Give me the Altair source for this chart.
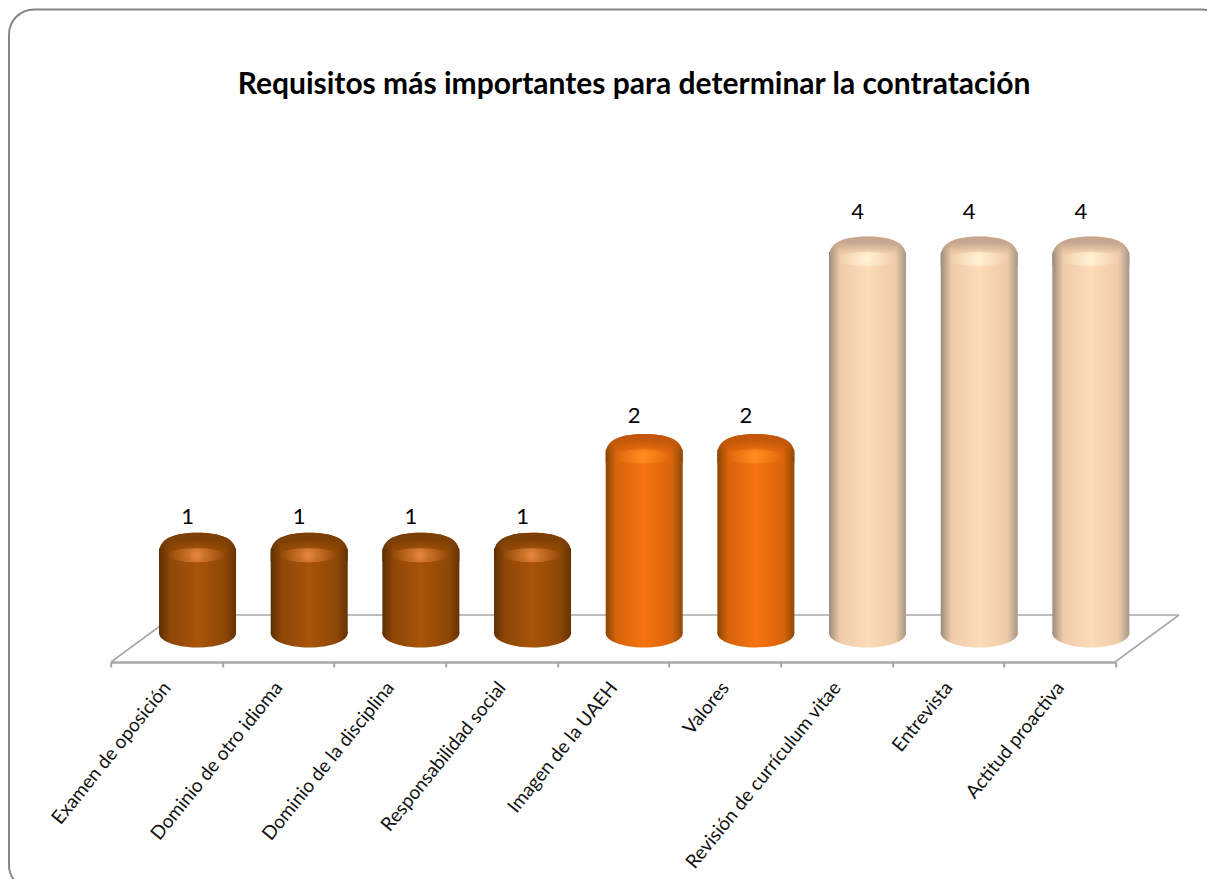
import altair as alt
import pandas as pd

categories = ["Examen de oposición", "Dominio de otro idioma", "Dominio de la disciplina",
              "Responsabilidad social", "Imagen de la UAEH", "Valores",
              "Revisión de currículum vitae", "Entrevista", "Actitud proactiva"]
values = [1, 1, 1, 1, 2, 2, 4, 4, 4]
title_text = "Requisitos más importantes para determinar la contratación"

df = pd.DataFrame({"cat": categories, "val": values})
df["base"] = 0.14

FONT = "Lato"
X0, Y0, W, H = 110.7, 252, 1005, 410   # plot area on the page
TOTAL_W, TOTAL_H = 1199, 871
DEPTH = 31
CYL = 77

x = alt.X("cat:N", sort=categories, title=None,
          scale=alt.Scale(domain=categories, paddingInner=0, paddingOuter=0, round=False),
          axis=alt.Axis(tickBand="extent", labelAngle=-51, labelAlign="right", labelBaseline="middle",
                        labelFont=FONT, labelFontSize=19, labelColor="#111", labelPadding=17,
                        labelLimit=0, labelOverlap=False, labelFlush=False, domainColor="#a6a6a6", domainWidth=2.5,
                        tickColor="#a6a6a6", tickWidth=2, tickSize=5, grid=False))
yscale = alt.Scale(domain=[-0.152, 4], nice=False, zero=False)
y = alt.Y("val:Q", title=None, axis=None, scale=yscale)


def rel(px, py):
    return px - X0, py - Y0


def seg(x1, y1, x2, y2, color="#a9a9a9", width=1.6):
    a, b = rel(x1, y1)
    c, d = rel(x2, y2)
    return alt.Chart(df.head(1)).mark_rule(color=color, strokeWidth=width).encode(
        x=alt.value(a), y=alt.value(b), x2=alt.value(c), y2=alt.value(d))


def hgrad(edge_l, mid1, mid2, edge_r):
    return alt.Gradient(gradient="linear", x1=0, y1=0, x2=1, y2=0, stops=[
        alt.GradientStop(offset=0, color=edge_l), alt.GradientStop(offset=0.14, color=mid1),
        alt.GradientStop(offset=0.5, color=mid2), alt.GradientStop(offset=0.86, color=mid1),
        alt.GradientStop(offset=1, color=edge_r)])


CAP = "M-1,0.12 C-1,-0.24 -0.62,-0.4 0,-0.4 C0.62,-0.4 1,-0.24 1,0.12 L1,0.35 L-1,0.35 Z"
ELL = "M-1,0 A1,0.37 0 1 0 1,0 A1,0.37 0 1 0 -1,0 Z"
GLOW = "M-1,0 A1,0.24 0 1 0 1,0 A1,0.24 0 1 0 -1,0 Z"

palettes = {
    1: dict(g=("#5d2e03", "#8e4706", "#a9540a", "#653203"), top="#7c3f05", glow="#e8893e", dy=-31),
    2: dict(g=("#8a4605", "#d8640b", "#f6730f", "#8f4a06"), top="#c2570a", glow="#ff8f22", dy=-33),
    4: dict(g=("#9d8b7b", "#efcba8", "#fddcb8", "#a89888"), top="#c6a68e", glow="#fff2d6", dy=-40),
}

frame_l, frame_t = rel(9, 9.5)
frame_r, frame_b = rel(1227, 890)
frame = alt.Chart(df.head(1)).mark_rect(cornerRadius=25, fill="transparent", stroke="#868686", strokeWidth=2).encode(
    x=alt.value(frame_l), x2=alt.value(frame_r), y=alt.value(frame_t), y2=alt.value(frame_b))

tx, ty = rel(634, 85)
title = alt.Chart(df.head(1)).mark_text(text=title_text, font=FONT, fontSize=30, fontWeight="bold", color="#000",
                                        align="center", baseline="middle").encode(
    x=alt.value(tx), y=alt.value(ty))

layers = [frame, title,
          seg(175, 615, 1179, 615),
          seg(111, 662, 175, 615),
          seg(1115, 662, 1179, 615)]

for v, p in palettes.items():
    d = df[df.val == v]
    body = hgrad(*p["g"])
    layers.append(alt.Chart(d).mark_point(shape=ELL, size=CYL ** 2, filled=True, fill=body, opacity=1,
                                          strokeWidth=0, xOffset=DEPTH)
                  .encode(x=x, y=alt.Y("base:Q", scale=yscale, axis=None, title=None)))
    layers.append(alt.Chart(d).mark_bar(width=CYL, fill=body, xOffset=DEPTH, strokeWidth=0)
                  .encode(x=x, y=y, y2="base:Q"))
    layers.append(alt.Chart(d).mark_point(shape=CAP, size=CYL ** 2, filled=True, fill=body, opacity=1,
                                          strokeWidth=0, xOffset=DEPTH)
                  .encode(x=x, y=y))
    topfade = alt.Gradient(gradient="linear", x1=0, y1=0, x2=0, y2=1, stops=[
        alt.GradientStop(offset=0, color=p["top"]),
        alt.GradientStop(offset=0.2, color=p["top"]),
        alt.GradientStop(offset=0.6, color=p["top"] + "00")])
    layers.append(alt.Chart(d).mark_point(shape=CAP, size=CYL ** 2, filled=True, fill=topfade, opacity=1,
                                          strokeWidth=0, xOffset=DEPTH)
                  .encode(x=x, y=y))
    glow = alt.Gradient(gradient="radial", x1=0.5, y1=0.5, r1=0, x2=0.5, y2=0.5, r2=0.5, stops=[
        alt.GradientStop(offset=0, color=p["glow"]),
        alt.GradientStop(offset=0.3, color=p["glow"] + "90"),
        alt.GradientStop(offset=1, color=p["glow"] + "00")])
    layers.append(alt.Chart(d).mark_point(shape=GLOW, size=58 ** 2, filled=True, fill=glow, opacity=1,
                                          strokeWidth=0, xOffset=DEPTH - 1, yOffset=7)
                  .encode(x=x, y=y))
    layers.append(alt.Chart(d).mark_text(font=FONT, fontSize=22, color="#000", dx=21, dy=p["dy"])
                  .encode(x=x, y=y, text="val:Q"))

chart = alt.layer(*layers).properties(
    width=W, height=H,
    padding={"left": X0 - 8, "top": Y0 - 8, "right": TOTAL_W - (X0 - 8) - W, "bottom": TOTAL_H - (Y0 - 8) - H},
    autosize="none",
    background="white",
).configure_view(stroke=None)

chart.save("out.html", embed_options={"renderer": "svg", "actions": False})
